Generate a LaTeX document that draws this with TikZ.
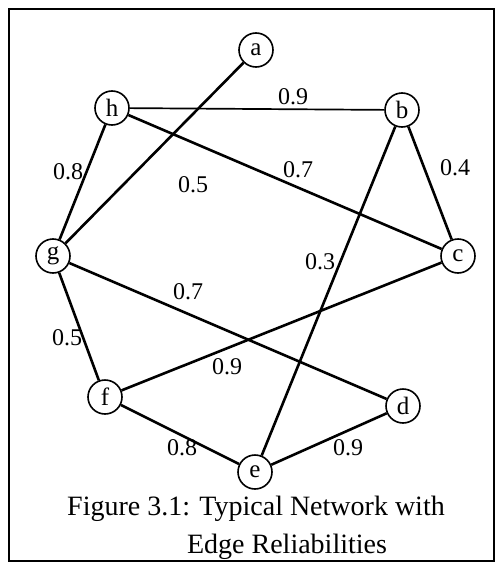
\documentclass[tikz,border=0pt]{standalone}
\usepackage{fontspec}
\setmainfont{Liberation Serif}
\usetikzlibrary{
  positioning % relative placement
}
\tikzset{
  vertex/.style={
    circle,
    draw,
    line width=1.6pt,
    minimum size=34pt,
    inner sep=0pt,
    font=\fontsize{25}{25}\selectfont
  },
  link/.style={
    line width=2.6pt
  },
  thin link/.style={
    line width=1.7pt
  },
  weight/.style={
    inner sep=0pt,
    font=\fontsize{24}{24}\selectfont
  },
  caption line/.style={
    inner sep=0pt,
    font=\fontsize{28}{30}\selectfont
  }
}

\begin{document}
\begin{tikzpicture}[x=1pt, y=-1pt]
    % picture size and frame
    \useasboundingbox (0,0) rectangle (498,562);
    \draw[line width=1.6pt] (9,9) rectangle (494,561);

    % --- vertices ---
    \node[vertex] (a) at (256, 50) {a};
    \node[vertex] (h) at (112,108) {h};
    \node[vertex] (b) at (402,110) {b};
    \node[vertex] (g) at (53,256) {g};
    \node[vertex] (c) at (458,256) {c};
    \node[vertex] (f) at (105,397) {f};
    \node[vertex] (d) at (403,406) {d};
    \node[vertex] (e) at (255,472) {e};

    % --- edges ---
    \draw[thin link] (h) -- (b);
    \draw[link] (a) -- (g);
    \draw[link] (h) -- (g);
    \draw[link] (h) -- (c);
    \draw[link] (b) -- (c);
    \draw[link] (b) -- (e);
    \draw[link] (g) -- (d);
    \draw[link] (g) -- (f);
    \draw[link] (c) -- (f);
    \draw[link] (f) -- (e);
    \draw[link] (e) -- (d);

    % --- reliabilities ---
    \node[weight] (w-hb) at (293, 97) {0.9};
    \node[weight] (w-hg) at (68,172) {0.8};
    \node[weight] (w-ag) at (193,185) {0.5};
    \node[weight] (w-hc) at (298,170) {0.7};
    \node[weight] (w-bc) at (455,168) {0.4};
    \node[weight] (w-be) at (320,262) {0.3};
    \node[weight] (w-gd) at (188,292) {0.7};
    \node[weight] (w-gf) at (67,338) {0.5};
    \node[weight] (w-cf) at (227,367) {0.9};
    \node[weight] (w-fe) at (182,448) {0.8};
    \node[weight] (w-ed) at (348,448) {0.9};

    % caption
    \node[caption line] (cap1) at (256,509) {Figure 3.1: Typical Network with};
    \node[caption line] (cap2) at (287,547) {Edge Reliabilities};
\end{tikzpicture}
\end{document}
